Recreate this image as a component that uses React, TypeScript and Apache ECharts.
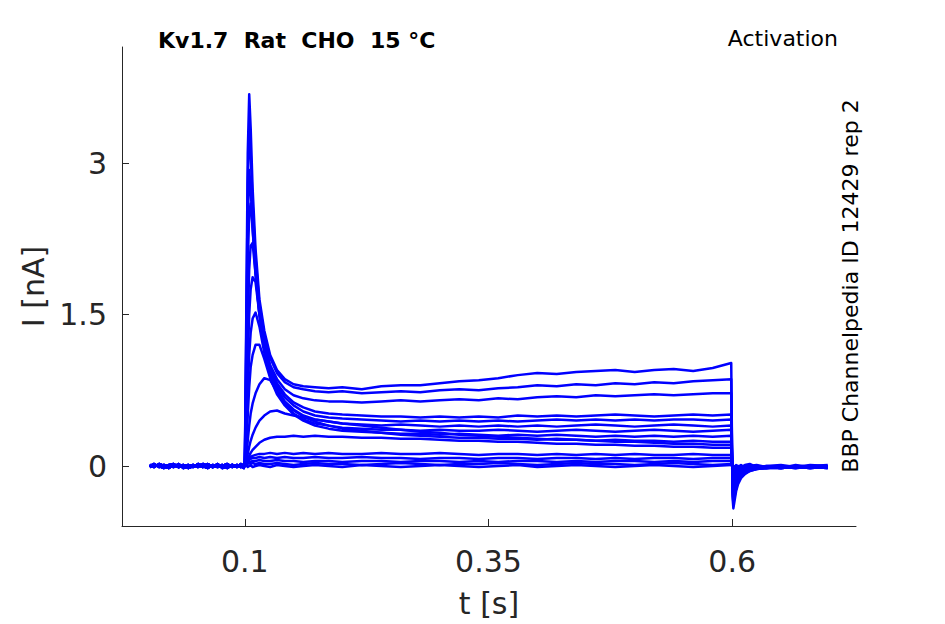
import React, { useEffect, useRef } from "react";
import * as echarts from "echarts";

// Time samples (s)
const baseTimes = [0.0025, 0.007, 0.012, 0.017, 0.022, 0.027, 0.032, 0.037, 0.042, 0.047, 0.052, 0.057, 0.062, 0.067, 0.072, 0.077, 0.082, 0.087, 0.092, 0.096, 0.099];
const pulseTimes = [0.1, 0.1015, 0.103, 0.1045, 0.106, 0.108, 0.111, 0.115, 0.12, 0.126, 0.133, 0.141, 0.15, 0.16, 0.172, 0.186, 0.2, 0.22, 0.24, 0.26, 0.28, 0.3, 0.32, 0.34, 0.36, 0.38, 0.4, 0.42, 0.44, 0.46, 0.48, 0.5, 0.52, 0.54, 0.56, 0.58, 0.599];
const tailTimes = [0.6003, 0.6012, 0.6025, 0.604, 0.606, 0.609, 0.613, 0.618, 0.625, 0.635, 0.65, 0.665, 0.68, 0.698];

// Baseline currents (nA) before the step
const baseA = [0.01, -0.01, 0.02, 0.0, -0.02, 0.01, -0.01, 0.01, -0.02, 0.0, 0.01, -0.01, 0.02, -0.01, 0.0, 0.01, -0.02, 0.01, 0.0, -0.01, 0.01];
const baseB = [-0.01, 0.01, 0.0, -0.02, 0.01, 0.02, -0.01, 0.0, 0.01, -0.01, 0.02, 0.0, -0.02, 0.01, -0.01, 0.0, 0.02, -0.01, 0.01, 0.0, -0.02];
const baseC = [0.0, 0.02, -0.01, 0.01, 0.0, -0.01, 0.02, -0.02, 0.0, 0.01, -0.01, 0.02, 0.0, -0.01, 0.02, -0.02, 0.0, 0.01, -0.01, 0.02, 0.0];

// Currents during the step (nA), one array per sweep
const pulse1 = [0.02, 1.5, 3.1, 3.68, 3.35, 2.75, 2.15, 1.65, 1.34, 1.1, 0.95, 0.86, 0.81, 0.79, 0.78, 0.77, 0.78, 0.76, 0.79, 0.8, 0.8, 0.82, 0.84, 0.85, 0.87, 0.9, 0.92, 0.91, 0.93, 0.94, 0.95, 0.93, 0.95, 0.96, 0.94, 0.97, 1.02];
const pulse2 = [0.02, 1.3, 2.8, 3.34, 3.1, 2.6, 2.05, 1.6, 1.3, 1.07, 0.92, 0.83, 0.78, 0.76, 0.74, 0.73, 0.74, 0.72, 0.73, 0.74, 0.73, 0.75, 0.76, 0.75, 0.77, 0.78, 0.8, 0.79, 0.81, 0.8, 0.82, 0.81, 0.83, 0.82, 0.84, 0.85, 0.86];
const pulse3 = [0.02, 1.1, 2.4, 2.93, 2.75, 2.35, 1.9, 1.5, 1.22, 1.0, 0.86, 0.76, 0.7, 0.67, 0.65, 0.64, 0.64, 0.63, 0.64, 0.65, 0.64, 0.65, 0.66, 0.65, 0.67, 0.66, 0.68, 0.69, 0.68, 0.7, 0.69, 0.7, 0.71, 0.7, 0.71, 0.72, 0.72];
const pulse4 = [0.02, 0.9, 2.0, 2.5, 2.6, 2.35, 1.95, 1.55, 1.22, 0.98, 0.82, 0.71, 0.63, 0.58, 0.54, 0.52, 0.51, 0.5, 0.49, 0.49, 0.48, 0.49, 0.48, 0.49, 0.48, 0.5, 0.49, 0.5, 0.49, 0.5, 0.51, 0.5, 0.49, 0.5, 0.51, 0.5, 0.51];
const pulse5 = [0.02, 0.6, 1.4, 1.95, 2.18, 2.21, 1.9, 1.5, 1.18, 0.95, 0.79, 0.68, 0.6, 0.54, 0.5, 0.48, 0.47, 0.46, 0.45, 0.44, 0.45, 0.44, 0.45, 0.44, 0.45, 0.44, 0.45, 0.46, 0.45, 0.46, 0.45, 0.46, 0.45, 0.46, 0.46, 0.45, 0.46];
const pulse6 = [0.02, 0.45, 1.05, 1.5, 1.75, 1.87, 1.82, 1.5, 1.17, 0.93, 0.76, 0.64, 0.56, 0.5, 0.46, 0.44, 0.42, 0.41, 0.4, 0.41, 0.4, 0.39, 0.4, 0.39, 0.4, 0.39, 0.4, 0.39, 0.4, 0.41, 0.4, 0.39, 0.4, 0.41, 0.4, 0.39, 0.4];
const pulse7 = [0.02, 0.3, 0.75, 1.1, 1.32, 1.46, 1.52, 1.38, 1.12, 0.9, 0.73, 0.61, 0.52, 0.46, 0.42, 0.4, 0.38, 0.37, 0.36, 0.36, 0.35, 0.36, 0.35, 0.35, 0.36, 0.35, 0.34, 0.35, 0.36, 0.35, 0.34, 0.35, 0.36, 0.35, 0.34, 0.35, 0.36];
const pulse8 = [0.02, 0.2, 0.5, 0.78, 0.98, 1.1, 1.2, 1.2, 1.06, 0.87, 0.71, 0.6, 0.51, 0.45, 0.4, 0.37, 0.35, 0.34, 0.33, 0.32, 0.32, 0.31, 0.32, 0.31, 0.3, 0.31, 0.3, 0.31, 0.3, 0.29, 0.3, 0.29, 0.3, 0.29, 0.3, 0.29, 0.3];
const pulse9 = [0.02, 0.1, 0.25, 0.4, 0.52, 0.62, 0.72, 0.81, 0.87, 0.85, 0.74, 0.63, 0.55, 0.49, 0.44, 0.4, 0.37, 0.35, 0.33, 0.31, 0.3, 0.29, 0.28, 0.28, 0.27, 0.27, 0.26, 0.27, 0.26, 0.25, 0.26, 0.25, 0.25, 0.24, 0.25, 0.24, 0.24];
const pulse10 = [0.02, 0.06, 0.12, 0.19, 0.25, 0.31, 0.38, 0.45, 0.5, 0.54, 0.55, 0.52, 0.5, 0.48, 0.46, 0.44, 0.42, 0.4, 0.38, 0.36, 0.34, 0.33, 0.31, 0.3, 0.29, 0.28, 0.27, 0.26, 0.26, 0.25, 0.24, 0.24, 0.23, 0.22, 0.22, 0.21, 0.21];
const pulse11 = [0.02, 0.04, 0.07, 0.1, 0.13, 0.16, 0.19, 0.23, 0.26, 0.28, 0.29, 0.29, 0.3, 0.29, 0.3, 0.29, 0.29, 0.28, 0.28, 0.27, 0.27, 0.26, 0.25, 0.25, 0.24, 0.24, 0.23, 0.22, 0.22, 0.21, 0.21, 0.2, 0.2, 0.19, 0.19, 0.18, 0.18];
const pulse12 = [0.02, 0.04, 0.06, 0.08, 0.09, 0.1, 0.11, 0.12, 0.12, 0.13, 0.12, 0.13, 0.12, 0.13, 0.12, 0.13, 0.12, 0.12, 0.13, 0.12, 0.12, 0.13, 0.12, 0.11, 0.12, 0.12, 0.11, 0.12, 0.11, 0.12, 0.11, 0.12, 0.11, 0.11, 0.12, 0.11, 0.11];
const pulse13 = [0.02, 0.03, 0.05, 0.06, 0.07, 0.08, 0.08, 0.09, 0.08, 0.09, 0.08, 0.09, 0.08, 0.08, 0.09, 0.08, 0.08, 0.09, 0.08, 0.08, 0.07, 0.08, 0.08, 0.07, 0.08, 0.08, 0.07, 0.08, 0.08, 0.07, 0.08, 0.07, 0.08, 0.08, 0.07, 0.08, 0.08];
const pulse14 = [0.01, 0.02, 0.03, 0.04, 0.04, 0.05, 0.05, 0.06, 0.05, 0.05, 0.06, 0.05, 0.05, 0.04, 0.05, 0.05, 0.04, 0.05, 0.05, 0.04, 0.05, 0.05, 0.04, 0.05, 0.04, 0.05, 0.05, 0.04, 0.05, 0.04, 0.05, 0.05, 0.04, 0.05, 0.04, 0.05, 0.05];
const pulse15 = [0.01, 0.02, 0.02, 0.03, 0.02, 0.03, 0.02, 0.03, 0.02, 0.02, 0.03, 0.02, 0.01, 0.02, 0.03, 0.02, 0.02, 0.01, 0.02, 0.03, 0.02, 0.01, 0.02, 0.02, 0.03, 0.02, 0.01, 0.02, 0.03, 0.02, 0.02, 0.01, 0.02, 0.03, 0.02, 0.01, 0.02];
const pulse16 = [0.0, 0.01, -0.01, 0.0, 0.01, -0.01, 0.0, 0.01, 0.0, -0.01, 0.01, 0.0, -0.01, 0.0, 0.01, 0.0, -0.01, 0.01, 0.0, -0.01, 0.0, 0.01, 0.0, -0.01, 0.0, 0.01, -0.01, 0.0, 0.01, 0.0, -0.01, 0.0, 0.01, 0.0, -0.01, 0.0, 0.01];

// Tail currents (nA) after the step
const tail1 = [-0.3, -0.42, -0.34, -0.25, -0.18, -0.12, -0.08, -0.05, -0.03, -0.02, -0.02, -0.01, -0.02, -0.01];
const tail2 = [-0.26, -0.37, -0.3, -0.22, -0.16, -0.11, -0.07, -0.05, -0.03, -0.02, -0.01, -0.02, -0.01, -0.02];
const tail3 = [-0.22, -0.32, -0.26, -0.19, -0.14, -0.09, -0.06, -0.04, -0.03, -0.02, -0.02, -0.01, -0.01, -0.02];
const tail4 = [-0.16, -0.24, -0.2, -0.15, -0.11, -0.07, -0.05, -0.03, -0.02, -0.01, -0.02, -0.01, -0.02, -0.01];
const tail5 = [-0.14, -0.21, -0.17, -0.13, -0.09, -0.06, -0.04, -0.03, -0.02, -0.02, -0.01, -0.02, -0.01, -0.01];
const tail6 = [-0.12, -0.18, -0.15, -0.11, -0.08, -0.05, -0.04, -0.03, -0.02, -0.01, -0.01, -0.02, -0.01, -0.01];
const tail7 = [-0.1, -0.15, -0.12, -0.09, -0.07, -0.05, -0.03, -0.02, -0.02, -0.01, -0.02, -0.01, -0.01, -0.02];
const tail8 = [-0.09, -0.13, -0.1, -0.08, -0.06, -0.04, -0.03, -0.02, -0.01, -0.02, -0.01, -0.01, -0.02, -0.01];
const tail9 = [-0.07, -0.1, -0.08, -0.06, -0.05, -0.03, -0.02, -0.02, -0.01, -0.01, -0.02, -0.01, -0.01, -0.01];
const tail10 = [-0.06, -0.08, -0.07, -0.05, -0.04, -0.03, -0.02, -0.01, -0.01, -0.02, -0.01, -0.01, -0.02, -0.01];
const tail11 = [-0.05, -0.06, -0.05, -0.04, -0.03, -0.02, -0.02, -0.01, -0.01, -0.01, -0.02, -0.01, -0.01, -0.01];
const tail12 = [-0.03, -0.04, -0.03, -0.02, -0.02, -0.01, -0.02, 0.0, -0.01, -0.02, 0.0, -0.01, -0.02, 0.0];
const tail13 = [-0.02, -0.03, -0.03, -0.02, -0.01, -0.02, -0.01, -0.02, 0.0, -0.01, -0.02, 0.01, -0.01, -0.02];
const tail14 = [-0.01, -0.02, -0.02, -0.01, -0.02, 0.0, -0.01, 0.01, -0.02, 0.0, -0.01, -0.02, 0.0, -0.01];
const tail15 = [0.0, -0.01, -0.01, 0.0, -0.01, 0.01, -0.02, 0.0, 0.01, -0.01, 0.0, -0.01, 0.01, 0.0];
const tail16 = [0.01, 0.0, -0.01, 0.01, 0.0, -0.01, 0.01, 0.02, -0.01, 0.0, 0.01, -0.01, 0.0, 0.01];

const pulses = [pulse1, pulse2, pulse3, pulse4, pulse5, pulse6, pulse7, pulse8, pulse9, pulse10, pulse11, pulse12, pulse13, pulse14, pulse15, pulse16];
const tails = [tail1, tail2, tail3, tail4, tail5, tail6, tail7, tail8, tail9, tail10, tail11, tail12, tail13, tail14, tail15, tail16];
const bases = [baseA, baseB, baseC];

const xTicks = [0.1, 0.35, 0.6];
const yTicks = [0, 1.5, 3];

const FONT = "DejaVu Sans";
const AXIS_COLOR = "#262626";

function zip(times: number[], vals: number[]) {
  const out: number[][] = [];
  const n = Math.min(times.length, vals.length);
  for (let i = 0; i < n; i++) out.push([times[i], vals[i]]);
  return out;
}

export default function App() {
  const ref = useRef<HTMLDivElement>(null);
  useEffect(() => {
    if (!ref.current) return;
    const chart = echarts.init(ref.current, null, { renderer: "svg" });
    const series = pulses.map((p, i) => ({
      type: "line",
      showSymbol: false,
      symbol: "none",
      silent: true,
      lineStyle: { color: "#0000ff", width: 2.5, join: "round" },
      data: [
        ...zip(baseTimes, bases[i % 3]),
        ...zip(pulseTimes, p),
        ...zip(tailTimes, tails[i]),
      ],
    }));
    chart.setOption({
      animation: false,
      backgroundColor: "#ffffff",
      grid: { left: 122, right: 89, top: 47, bottom: 98, containLabel: false },
      xAxis: {
        type: "value",
        min: -0.026,
        max: 0.727,
        splitLine: { show: false },
        axisLine: { show: true, onZero: false, lineStyle: { color: AXIS_COLOR, width: 1 } },
        axisTick: { show: true, inside: true, length: 7, customValues: xTicks, lineStyle: { color: AXIS_COLOR } },
        axisLabel: { customValues: xTicks, fontSize: 30, fontFamily: FONT, color: AXIS_COLOR, margin: 20 },
        name: "t [s]",
        nameLocation: "middle",
        nameGap: 62,
        nameTextStyle: { fontSize: 30, fontFamily: FONT, color: AXIS_COLOR },
      },
      yAxis: {
        type: "value",
        min: -0.594,
        max: 4.149,
        splitLine: { show: false },
        axisLine: { show: true, onZero: false, lineStyle: { color: AXIS_COLOR, width: 1 } },
        axisTick: { show: true, inside: true, length: 7, customValues: yTicks, lineStyle: { color: AXIS_COLOR } },
        axisLabel: { customValues: yTicks, fontSize: 30, fontFamily: FONT, color: AXIS_COLOR, margin: 15 },
        name: "I [nA]",
        nameLocation: "middle",
        nameGap: 67,
        nameTextStyle: { fontSize: 30, fontFamily: FONT, color: AXIS_COLOR },
      },
      graphic: [
        {
          type: "text",
          x: 158,
          y: 40,
          style: { text: "Kv1.7  Rat  CHO  15 °C", font: `bold 22px "${FONT}"`, fill: "#000", textAlign: "left", textVerticalAlign: "middle" },
        },
        {
          type: "text",
          x: 838,
          y: 38,
          style: { text: "Activation", font: `22px "${FONT}"`, fill: "#000", textAlign: "right", textVerticalAlign: "middle" },
        },
        {
          type: "text",
          x: 850,
          y: 286,
          rotation: Math.PI / 2,
          style: { text: "BBP Channelpedia ID 12429 rep 2", font: `22px "${FONT}"`, fill: "#000", textAlign: "center", textVerticalAlign: "middle" },
        },
      ],
      series,
    });
    return () => chart.dispose();
  }, []);
  return <div ref={ref} style={{ position: "fixed", left: 0, top: 0, width: 945, height: 624 }} />;
}
